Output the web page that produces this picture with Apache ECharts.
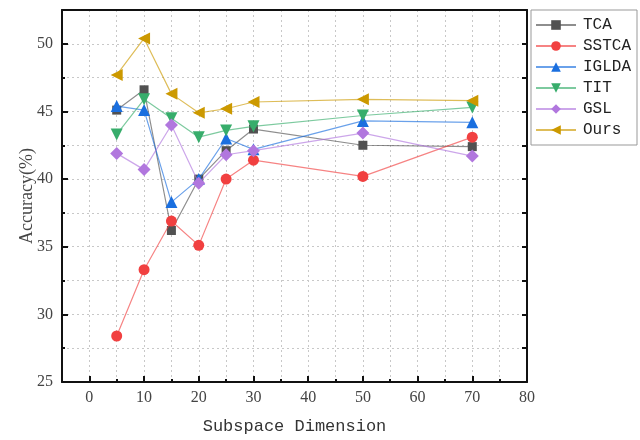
<!DOCTYPE html>
<html><head><meta charset="utf-8">
<script src="https://cdn.jsdelivr.net/npm/echarts@6/dist/echarts.min.js"></script>
<style>html,body{margin:0;padding:0;background:#fff}#c{width:640px;height:440px}</style>
</head><body><div id="c"></div>
<script>
var dims = [5, 10, 15, 20, 25, 30, 50, 70];
var seriesNames = ['TCA', 'SSTCA', 'IGLDA', 'TIT', 'GSL', 'Ours'];
var tca   = [45.1, 46.6, 36.2, 40.0, 42.1, 43.7, 42.5, 42.4];
var sstca = [28.4, 33.3, 36.9, 35.1, 40.0, 41.4, 40.2, 43.1];
var iglda = [45.4, 45.1, 38.3, 40.0, 43.0, 42.2, 44.3, 44.2];
var tit   = [43.3, 45.9, 44.5, 43.1, 43.6, 43.9, 44.7, 45.3];
var gsl   = [41.9, 40.7, 44.0, 39.7, 41.8, 42.1, 43.4, 41.7];
var ours  = [47.7, 50.4, 46.3, 44.9, 45.2, 45.7, 45.9, 45.8];
var xLabels = [0, 10, 20, 30, 40, 50, 60, 70, 80];
var xMinor = [5, 15, 25, 35, 45, 55, 65, 75];
var yLabels = [25, 30, 35, 40, 45, 50];
var yMinor = [27.5, 32.5, 37.5, 42.5, 47.5];

var colors = ['#515151', '#F14040', '#1A6FDF', '#37AD6B', '#B177DE', '#CC9900'];
var symbols = ['rect', 'circle', 'triangle', 'triangle', 'diamond', 'triangle'];
var rotates = [0, 0, 0, 180, 0, 90];
var sizes = [9, 11, 12, 12, 13, 12];
var allData = [tca, sstca, iglda, tit, gsl, ours];

function pairs(v) { return dims.map(function (d, i) { return [d, v[i]]; }); }

var tickFont = { fontFamily: 'Liberation Serif', fontSize: 16, color: '#444' };
var dotted = { show: true, lineStyle: { color: '#c8c8c8', type: [2, 3], width: 1 } };
var axisLine = { show: true, onZero: false, lineStyle: { color: '#111', width: 2 } };
var noLine = { show: false, onZero: false };

var chart = echarts.init(document.getElementById('c'));
chart.setOption({
  animation: false,
  color: colors,
  grid: { left: 62, right: 113, top: 10, bottom: 52, containLabel: false },
  legend: {
    orient: 'vertical', left: 531, top: 10, padding: [7, 6, 7, 4], itemGap: 5,
    itemWidth: 40, itemHeight: 12, borderColor: '#999', borderWidth: 1, backgroundColor: '#fff',
    textStyle: { fontFamily: 'Liberation Mono', fontSize: 16, color: '#222', padding: [0, 0, 0, 2] },
    data: seriesNames
  },
  xAxis: [
    { type: 'value', min: -5, max: 80, interval: 5, position: 'bottom',
      name: 'Subspace Dimension', nameLocation: 'middle', nameGap: 36,
      nameTextStyle: { fontFamily: 'Liberation Mono', fontSize: 17, color: '#333' },
      axisLine: axisLine,
      axisTick: { show: true, inside: true, length: 6, customValues: xLabels, lineStyle: { color: '#111', width: 2 } },
      axisLabel: { show: true, margin: 8, customValues: xLabels, ...tickFont },
      splitLine: dotted },
    { type: 'value', min: -5, max: 80, interval: 5, position: 'bottom',
      axisLine: noLine,
      axisTick: { show: true, inside: true, length: 3, customValues: xMinor, lineStyle: { color: '#111', width: 2 } },
      axisLabel: { show: false }, splitLine: dotted },
    { type: 'value', min: -5, max: 80, interval: 5, position: 'top',
      axisLine: axisLine, axisTick: { show: false }, axisLabel: { show: false }, splitLine: { show: false } }
  ],
  yAxis: [
    { type: 'value', min: 25, max: 52.5, interval: 2.5, position: 'left',
      axisLine: axisLine,
      axisTick: { show: true, inside: true, length: 6, customValues: yLabels, lineStyle: { color: '#111', width: 2 } },
      axisLabel: { show: true, margin: 9, customValues: yLabels, ...tickFont },
      splitLine: dotted },
    { type: 'value', min: 25, max: 52.5, interval: 2.5, position: 'left',
      name: 'Accuracy(%)', nameLocation: 'middle', nameGap: 26,
      nameTextStyle: { fontFamily: 'Liberation Serif', fontSize: 18, color: '#444' },
      axisLine: noLine,
      axisTick: { show: true, inside: true, length: 3, customValues: yMinor, lineStyle: { color: '#111', width: 2 } },
      axisLabel: { show: false }, splitLine: dotted },
    { type: 'value', min: 25, max: 52.5, interval: 2.5, position: 'right',
      axisLine: axisLine,
      axisTick: { show: true, inside: true, length: 5, lineStyle: { color: '#111', width: 2 } },
      axisLabel: { show: false }, splitLine: { show: false } }
  ],
  series: seriesNames.map(function (n, i) {
    return {
      name: n, type: 'line', data: pairs(allData[i]),
      symbol: symbols[i], symbolSize: sizes[i], symbolRotate: rotates[i],
      showAllSymbol: true,
      lineStyle: { width: 1.2, color: colors[i], opacity: 0.65 },
      itemStyle: { color: colors[i], opacity: 1 },
      z: 3 + i
    };
  })
});
</script></body></html>
